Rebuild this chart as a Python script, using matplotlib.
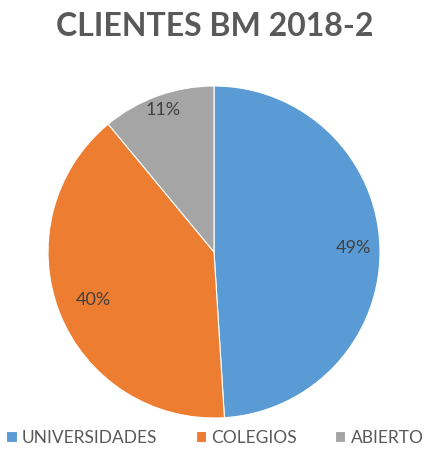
import matplotlib
matplotlib.use("Agg")
import matplotlib.pyplot as plt
import numpy as np

categories = ["UNIVERSIDADES", "COLEGIOS", "ABIERTO"]
values = [49, 40, 11]
colors = ["#5B9BD5", "#ED7D31", "#A5A5A5"]
title = "CLIENTES BM 2018-2"
label_dist = [0.84, 0.78, 0.91]

plt.rcParams['font.family'] = ['Lato', 'DejaVu Sans']

W, H = 430, 465
fig = plt.figure(figsize=(W/100, H/100), dpi=100)
cx, cy, r = 214, 252, 166
ax = fig.add_axes([(cx - r)/W, (H - cy - r)/H, 2*r/W, 2*r/H])

wedges, texts, autotexts = ax.pie(
    values, colors=colors, startangle=90, counterclock=False,
    autopct=lambda p: f"{p:.0f}%", pctdistance=0.8,
    wedgeprops=dict(edgecolor="white", linewidth=0.8),
    textprops=dict(color="#404040", fontsize=13))
for w, t, d in zip(wedges, autotexts, label_dist):
    ang = np.deg2rad((w.theta1 + w.theta2) / 2)
    t.set_position((d * np.cos(ang), d * np.sin(ang)))
ax.set_xlim(-1, 1)
ax.set_ylim(-1, 1)
ax.set_aspect('equal')
ax.axis('off')

fig.text(0.5, 1 - 27/H, title, ha='center', va='center',
         fontsize=23, fontweight='bold', color='#595959')

fig.legend(wedges, categories, loc='center', bbox_to_anchor=(0.5, 1 - 438/H),
           ncol=3, frameon=False, fontsize=12.5, labelcolor='#595959',
           handlelength=0.6, handleheight=0.6, handletextpad=0.3,
           columnspacing=2.2)

fig.savefig("out.png", dpi=100)
